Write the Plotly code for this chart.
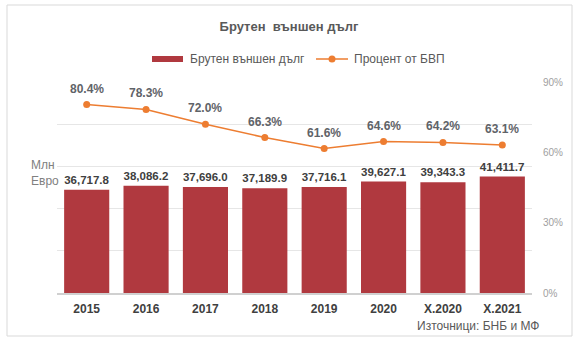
import plotly.graph_objects as go

# Gross external debt, million euro, and share of GDP
categories = ["2015", "2016", "2017", "2018", "2019", "2020", "X.2020", "X.2021"]
debt_mln_eur = [36717.8, 38086.2, 37696.0, 37189.9, 37716.1, 39627.1, 39343.3, 41411.7]
pct_of_gdp = [80.4, 78.3, 72.0, 66.3, 61.6, 64.6, 64.2, 63.1]
pct_ticks = [0, 30, 60, 90]

BAR_COLOR = "#B0393F"
LINE_COLOR = "#ED7D31"
FONT = "Arial"

W, H = 578, 341
L, R, T, B = 57, 46, 82, 48


def px_x(px):
    return (px - L) / (W - L - R)


def px_y(py):
    return (H - B - py) / (H - T - B)


fig = go.Figure()

fig.add_trace(go.Bar(
    x=categories, y=debt_mln_eur, name="Брутен външен дълг",
    marker=dict(color=BAR_COLOR, line=dict(width=0)),
    texttemplate="%{y:,.1f}", textposition="outside", cliponaxis=False,
    textfont=dict(family=FONT, size=12, color="#404040", weight="bold"),
    showlegend=False,
))

fig.add_trace(go.Scatter(
    x=categories, y=pct_of_gdp, name="Процент от БВП", yaxis="y2",
    mode="lines+markers",
    line=dict(color=LINE_COLOR, width=1.5),
    marker=dict(color=LINE_COLOR, size=7),
    cliponaxis=False,
    showlegend=False,
))

shapes = [
    # outer frame
    dict(type="rect", xref="paper", yref="paper",
         x0=px_x(7), x1=px_x(572), y0=px_y(336), y1=px_y(5),
         line=dict(color="#d9d9d9", width=1), fillcolor="rgba(0,0,0,0)", layer="below"),
    # legend: bar swatch
    dict(type="rect", xref="paper", yref="paper",
         x0=px_x(152), x1=px_x(183), y0=px_y(62), y1=px_y(56),
         line=dict(width=0), fillcolor=BAR_COLOR),
    # legend: line sample
    dict(type="line", xref="paper", yref="paper",
         x0=px_x(316), x1=px_x(348), y0=px_y(59), y1=px_y(59),
         line=dict(color=LINE_COLOR, width=1.5)),
    dict(type="circle", xref="paper", yref="paper",
         x0=px_x(328.5), x1=px_x(335.5), y0=px_y(62.5), y1=px_y(55.5),
         line=dict(width=0), fillcolor=LINE_COLOR),
]

annotations = [
    dict(text="Брутен външен дълг", xref="paper", yref="paper",
         x=px_x(188), y=px_y(59), xanchor="left", yanchor="middle", showarrow=False,
         font=dict(family=FONT, size=12, color="#595959")),
    dict(text="Процент от БВП", xref="paper", yref="paper",
         x=px_x(352), y=px_y(59), xanchor="left", yanchor="middle", showarrow=False,
         font=dict(family=FONT, size=12, color="#595959")),
    dict(text="Млн<br>Евро", xref="paper", yref="paper", align="left",
         x=px_x(29), y=px_y(173), xanchor="left", yanchor="middle", showarrow=False,
         font=dict(family=FONT, size=12, color="#808080")),
    dict(text="Източници: БНБ и МФ", xref="paper", yref="paper",
         x=px_x(542), y=px_y(326), xanchor="right", yanchor="middle", showarrow=False,
         font=dict(family=FONT, size=12, color="#595959")),
]

# percentage labels above the line markers (x given as category index)
for i, val in enumerate(pct_of_gdp):
    annotations.append(dict(
        text=f"{val:.1f}%", x=i, y=val, xref="x", yref="y2",
        yshift=16, showarrow=False, yanchor="middle",
        font=dict(family=FONT, size=12, color="#5f6368", weight="bold"),
    ))

fig.update_layout(
    width=W, height=H,
    margin=dict(l=L, r=R, t=T, b=B),
    paper_bgcolor="white", plot_bgcolor="white",
    font=dict(family=FONT),
    title=dict(text="<b>Брутен  външен дълг</b>", x=0.5, xanchor="center",
               y=1 - 26 / H, yanchor="middle", xref="container",
               font=dict(family=FONT, size=13, color="#595959")),
    bargap=0.24,
    showlegend=False,
    xaxis=dict(
        type="category", range=[-0.5, len(categories) - 0.5],
        showgrid=False, showline=True, linecolor="#d0d0d0", linewidth=1.5,
        ticks="outside", ticklen=4, tickcolor="rgba(0,0,0,0)",
        tickfont=dict(family=FONT, size=12, color="#404040", weight="bold"),
    ),
    yaxis=dict(
        range=[0, 75000], dtick=15000, showticklabels=False,
        showgrid=True, gridcolor="#e6e6e6", gridwidth=1, zeroline=False,
    ),
    yaxis2=dict(
        overlaying="y", side="right", range=[0, 90], tickvals=pct_ticks,
        ticktext=[f"{v}%" for v in pct_ticks], showgrid=False, zeroline=False,
        ticks="outside", ticklen=8, tickcolor="rgba(0,0,0,0)",
        tickfont=dict(family=FONT, size=10, color="#a0a0a0"),
    ),
    shapes=shapes,
    annotations=annotations,
)

fig.write_html("out.html")
